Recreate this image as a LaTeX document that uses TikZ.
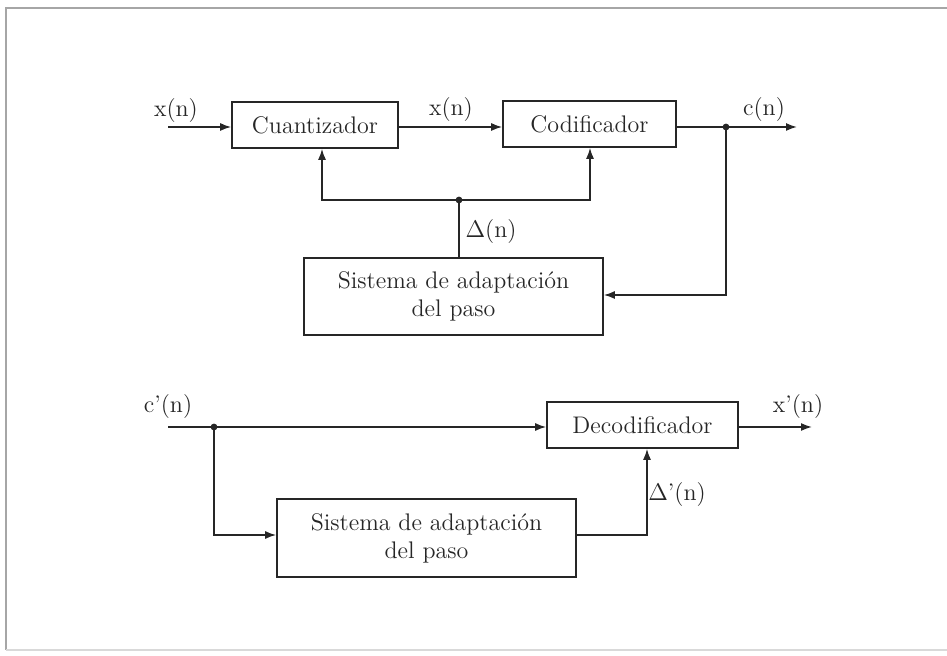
\documentclass[tikz,border=0pt]{standalone}
\usepackage{fontspec}
\usetikzlibrary{arrows.meta,calc}
\definecolor{ink}{gray}{0.15}
\begin{document}
\begin{tikzpicture}[x=0.5pt,y=-0.5pt,
  blk/.style={draw=ink, line width=0.8pt, minimum height=23pt, inner sep=0pt, font=\fontsize{12}{14}\selectfont, text=ink},
  lbl/.style={font=\fontsize{12}{14}\selectfont, text=ink, inner sep=0pt},
  con/.style={draw=ink, line width=0.8pt},
  arr/.style={con, -{Latex[length=5.5pt,width=4pt]}},
  dot/.style={circle, fill=ink, inner sep=0pt, minimum size=3.4pt}]
\path[use as bounding box] (0,0) rectangle (947,656);
\draw[gray!70, line width=1.1pt] (6,650) -- (6,8) -- (947,8);
\draw[gray!30, line width=0.6pt] (6,650) -- (947,650);

% blocks
\node[blk, minimum width=83pt] (cuant) at (315,125) {Cuantizador};
\node[blk, minimum width=86.5pt] (codif) at (589.5,124) {Codificador};
\node[blk, minimum width=149.5pt, minimum height=38.5pt, align=center] (sis1) at (453.5,296.5) {Sistema de adaptación\\del paso};
\node[blk, minimum width=95.5pt] (decod) at (642.5,425) {Decodificador};
\node[blk, minimum width=149.5pt, minimum height=39pt, align=center] (sis2) at (426.5,538) {Sistema de adaptación\\del paso};

% top diagram
\coordinate (in1) at (168,127);
\coordinate (j1) at (726,127);
\coordinate (out1) at (797,127);
\coordinate (j2) at (459,200);
\coordinate (q) at (322,200);
\coordinate (c) at (590,200);
\coordinate (f1) at (726,295);
\draw[arr] (in1) -- (in1 -| cuant.west);
\draw[arr] (cuant.east |- in1) -- (codif.west |- in1);
\draw[con] (codif.east |- in1) -- (j1);
\draw[arr] (j1) -- (out1);
\draw[arr] (j1) -- (f1) -- (f1 -| sis1.east);
\draw[con] (sis1.north -| j2) -- (j2);
\draw[arr] (j2) -- (q) -- (q |- cuant.south);
\draw[arr] (j2) -- (c) -- (c |- codif.south);
\node[dot] (d1) at (j1) {};
\node[dot] (d2) at (j2) {};

% bottom diagram
\coordinate (in2) at (168,427);
\coordinate (j3) at (214,427);
\coordinate (out2) at (812,427);
\coordinate (b1) at (214,535);
\coordinate (b2) at (647,535);
\draw[con] (in2) -- (j3);
\draw[arr] (j3) -- (j3 -| decod.west);
\draw[arr] (decod.east |- in2) -- (out2);
\draw[arr] (j3) -- (b1) -- (b1 -| sis2.west);
\draw[arr] (sis2.east |- b2) -- (b2) -- (b2 |- decod.south);
\node[dot] (d3) at (j3) {};

% labels
\node[lbl] (lx) at (176,111) {x(n)};
\node[lbl] (lxm) at (451,110) {x(n)};
\node[lbl] (lc) at (764,110) {c(n)};
\node[lbl] (ld) at (491,232) {$\Delta$(n)};
\node[lbl] (lc2) at (168,407) {c'(n)};
\node[lbl] (lx2) at (798,407) {x'(n)};
\node[lbl] (ld2) at (677,495) {$\Delta$'(n)};
\end{tikzpicture}
\end{document}
